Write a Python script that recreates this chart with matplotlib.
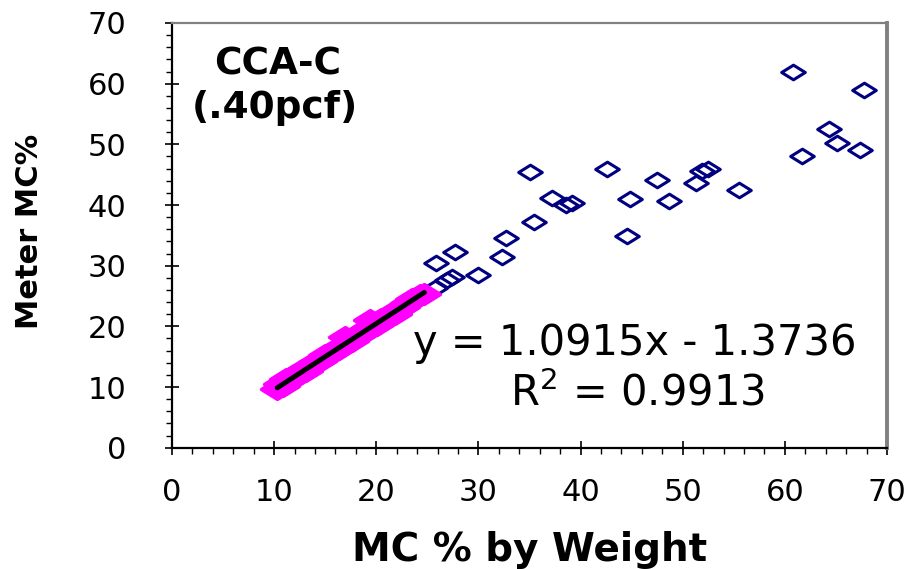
"""Meter reading vs. oven-dry MC for CCA-C (.40pcf) specimens, with the
linear fit over the below-FSP range."""
import numpy as np
import matplotlib
matplotlib.use("Agg")
import matplotlib.pyplot as plt
from matplotlib.path import Path
from matplotlib.ticker import MultipleLocator

# Specimens above fibre saturation (open diamonds)
wet_mc = [25.75, 26.9, 27.4, 30.0, 25.85, 27.7, 32.3, 32.7, 35.4, 44.5,
          37.2, 38.6, 39.2, 44.8, 48.7, 35.0, 42.6, 47.5, 51.3, 51.9,
          52.5, 55.5, 60.8, 67.7, 64.3, 65.1, 67.4, 61.7]
wet_meter = [26.3, 27.6, 28.2, 28.4, 30.5, 32.3, 31.5, 34.5, 37.2, 34.9,
             41.1, 40.0, 40.3, 41.0, 40.6, 45.4, 45.9, 44.1, 43.6, 45.6,
             45.9, 42.4, 62.0, 59.0, 52.5, 50.3, 49.0, 48.1]

# Specimens used for the regression (filled diamonds)
dry_mc = [10.3, 10.6, 10.9, 11.2, 11.5, 11.9, 12.3, 12.7, 13.1, 13.6,
          14.0, 14.5, 15.0, 15.4, 15.9, 16.3, 16.8, 16.9, 17.6, 18.0,
          18.4, 18.9, 19.4, 19.7, 20.1, 20.5, 20.9, 21.0, 21.3, 21.8,
          22.2, 22.6, 23.0, 23.5, 23.9, 24.3, 24.7]
dry_meter = [9.6, 10.5, 10.2, 11.3, 11.0, 11.9, 12.0, 12.8, 12.7, 13.6,
             14.2, 14.3, 15.2, 15.3, 16.1, 16.3, 17.0, 18.2, 17.6, 18.5,
             18.9, 19.0, 21.0, 20.6, 20.3, 21.2, 21.4, 21.6, 22.1, 22.0,
             22.9, 23.2, 23.9, 24.5, 24.6, 25.2, 25.3]

slope = 1.0915
intercept = -1.3736
r_squared = 0.9913

species_label = "CCA-C"
retention_label = "(.40pcf)"
x_title = "MC % by Weight"
y_title = "Meter MC%"

NAVY = "#000080"
MAGENTA = "#ff00ff"
FRAME_GRAY = "#808080"

# flattened diamond, wider than tall
DIAMOND = Path([(-1.0, 0.0), (0.0, 0.62), (1.0, 0.0), (0.0, -0.62), (-1.0, 0.0)],
               [Path.MOVETO, Path.LINETO, Path.LINETO, Path.LINETO, Path.CLOSEPOLY])


def style_axes(ax):
    ax.set_xlim(0, 70)
    ax.set_ylim(0, 70)
    for axis in (ax.xaxis, ax.yaxis):
        axis.set_major_locator(MultipleLocator(10))
        axis.set_minor_locator(MultipleLocator(2))
    ax.tick_params(which="major", direction="inout", length=10, width=1.2,
                   labelsize=22, color="black")
    ax.tick_params(which="minor", direction="out", length=4.5, width=1.0,
                   color="black")
    ax.tick_params(axis="x", which="major", pad=17)
    ax.tick_params(axis="y", which="major", pad=28)
    ax.spines["left"].set_linewidth(1.6)
    ax.spines["bottom"].set_linewidth(1.6)
    ax.spines["top"].set_color(FRAME_GRAY)
    ax.spines["top"].set_linewidth(1.6)
    ax.spines["right"].set_color(FRAME_GRAY)
    ax.spines["right"].set_linewidth(2.8)


def main():
    plt.rcParams["font.family"] = ["DejaVu Sans"]
    fig = plt.figure(figsize=(9.15, 5.69), dpi=100)
    ax = fig.add_axes([0.188, 0.2132, 0.7814, 0.7464])

    ax.plot(wet_mc, wet_meter, linestyle="none", marker=DIAMOND, markersize=17,
            markerfacecolor="none", markeredgecolor=NAVY, markeredgewidth=2.2,
            zorder=3)
    ax.plot(dry_mc, dry_meter, linestyle="none", marker=DIAMOND, markersize=23,
            markerfacecolor=MAGENTA, markeredgecolor=MAGENTA, markeredgewidth=2.5,
            zorder=4)

    fit_x = np.array([min(dry_mc), max(dry_mc)])
    ax.plot(fit_x, slope * fit_x + intercept, color="black", linewidth=3.6,
            solid_capstyle="round", zorder=5)

    ax.text(10.3, 63.1, species_label, fontsize=27, fontweight="bold",
            ha="center", va="center")
    ax.text(10.1, 56.0, retention_label, fontsize=27, fontweight="bold",
            ha="center", va="center")

    sign = "-" if intercept < 0 else "+"
    ax.text(45.3, 17.3, f"y = {slope:.4f}x {sign} {abs(intercept):.4f}",
            fontsize=30, ha="center", va="center", zorder=6)
    ax.text(45.6, 9.0, f"R$^2$ = {r_squared:.4f}", fontsize=30,
            ha="center", va="center", zorder=6)

    style_axes(ax)
    ax.set_xlabel(x_title, fontsize=28, fontweight="bold")
    ax.xaxis.set_label_coords(0.5, -0.195)
    ax.set_ylabel(y_title, fontsize=22, fontweight="bold", va="center")
    ax.yaxis.set_label_coords(-0.2, 0.51)

    fig.savefig("out.png", dpi=100)
    plt.close(fig)


if __name__ == "__main__":
    main()
